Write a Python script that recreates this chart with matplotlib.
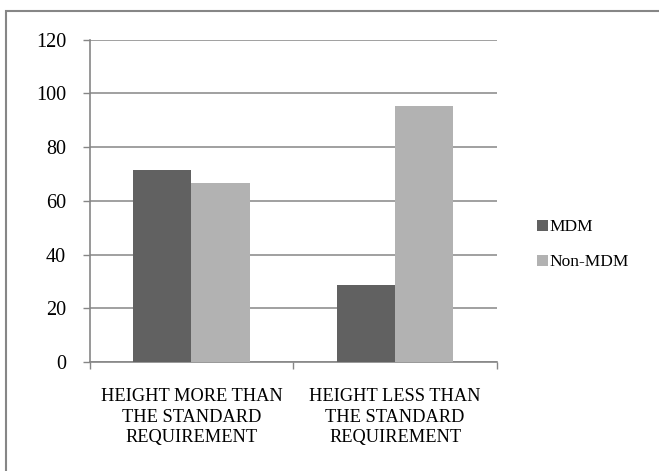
import numpy as np
import matplotlib
matplotlib.use('Agg')
from matplotlib import pyplot as plt
from matplotlib.patches import Rectangle

# chart data
categories = ['HEIGHT MORE THAN\nTHE STANDARD\nREQUIREMENT',
              'HEIGHT LESS THAN\nTHE STANDARD\nREQUIREMENT']
mdm_values = [71.4, 28.6]
non_mdm_values = [66.7, 95.3]
series_names = ['MDM', 'Non-MDM']
y_ticks = [0, 20, 40, 60, 80, 100, 120]

plt.rcParams['font.family'] = ['Liberation Serif', 'DejaVu Serif']

fig = plt.figure(figsize=(6.59, 4.71), dpi=100)
ax = fig.add_axes([0.136, 0.2315, 0.618, 0.684])

# outer chart border (runs off the right and bottom edges)
fig.patches.append(Rectangle((0.009, -0.02), 1.0, 0.997, transform=fig.transFigure,
                             fill=False, edgecolor='#868686', linewidth=1.5))

x = np.arange(len(categories))
w = 0.286
ax.bar(x - w/2, mdm_values, w, color='#616161', label=series_names[0], zorder=3)
ax.bar(x + w/2, non_mdm_values, w, color='#b2b2b2', label=series_names[1], zorder=3)

ax.set_xlim(-0.5, 1.5)
ax.set_ylim(0, 120)
ax.set_yticks(y_ticks)
ax.tick_params(axis='y', labelsize=14.5, length=5, color='#868686', width=1, pad=12)
ax.yaxis.grid(True, color='#868686', linewidth=1.1, zorder=0)

# category boundaries as ticks, labels on minor ticks
ax.set_xticks([-0.5, 0.5, 1.5])
ax.set_xticklabels([])
ax.tick_params(axis='x', which='major', length=5, color='#868686', width=1)
ax.set_xticks(x, minor=True)
ax.set_xticklabels(categories, minor=True, fontsize=13.2, linespacing=1.27)
ax.tick_params(axis='x', which='minor', length=0, pad=19)

for s in ['top', 'right']:
    ax.spines[s].set_visible(False)
for s in ['left', 'bottom']:
    ax.spines[s].set_color('#868686')
    ax.spines[s].set_linewidth(1.2)

fig.legend(loc='center left', bbox_to_anchor=(0.815, 0.48), frameon=False,
           fontsize=12.5, handlelength=0.63, handleheight=0.63, handletextpad=0.1,
           labelspacing=1.1, borderpad=0, borderaxespad=0)

fig.savefig('out.png', dpi=100)
